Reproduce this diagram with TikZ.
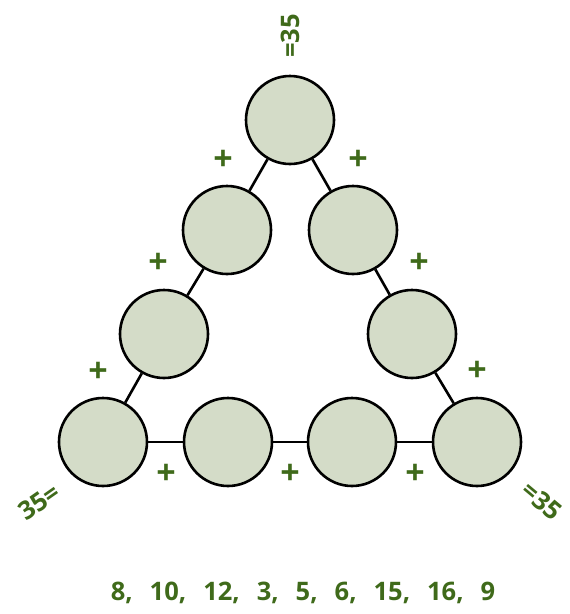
\documentclass[tikz,border=0pt]{standalone}
\usepackage{fontspec}
\setmainfont{Open Sans}
\usepackage{xcolor}
\usetikzlibrary{positioning}
\definecolor{ballfill}{HTML}{D4DCC8}
\definecolor{sumgreen}{HTML}{3F6A1A}

\tikzset{
  ball/.style={circle, draw=black, line width=2.6pt, fill=ballfill,
               minimum size=88pt, inner sep=0pt},
  link/.style={draw=black, line width=2.6pt},
  plussign/.style={text=sumgreen, font=\bfseries\fontsize{34}{34}\selectfont, inner sep=0pt},
  sumlabel/.style={text=sumgreen, font=\bfseries\fontsize{25.5}{25.5}\selectfont, inner sep=0pt}
}

\begin{document}
\begin{tikzpicture}[x=1pt, y=-1pt]
  \useasboundingbox (0,0) rectangle (570,614);

  % circles, from the top round to the bottom
  \node[ball] (top) at (290,120) {};
  \node[ball] (l1) at (227,230) {};
  \node[ball] (l2) at (164,334) {};
  \node[ball] (bl) at (103,442) {};
  \node[ball] (b1) at (228,442) {};
  \node[ball] (b2) at (352,442) {};
  \node[ball] (br) at (477,442) {};
  \node[ball] (r2) at (412,334) {};
  \node[ball] (r1) at (353,230) {};

  % links between neighbours
  \draw[link] (top) -- (l1);
  \draw[link] (l1) -- (l2);
  \draw[link] (l2) -- (bl);
  \draw[link] (bl) -- (b1);
  \draw[link] (b1) -- (b2);
  \draw[link] (b2) -- (br);
  \draw[link] (br) -- (r2);
  \draw[link] (r2) -- (r1);
  \draw[link] (r1) -- (top);

  % plus signs
  \node[plussign] (p1) at (223,160) {+};
  \node[plussign] (p2) at (158,263) {+};
  \node[plussign] (p3) at (98,372) {+};
  \node[plussign] (p4) at (358,160) {+};
  \node[plussign] (p5) at (419,263) {+};
  \node[plussign] (p6) at (477,371) {+};
  \node[plussign] (p7) at (166,474) {+};
  \node[plussign] (p8) at (290,474) {+};
  \node[plussign] (p9) at (415,474) {+};

  % sums at the corners
  \node[sumlabel, rotate=90] (stop) at (290,36) {=35};
  \node[sumlabel, rotate=35] (sleft) at (39,502) {35=};
  \node[sumlabel, rotate=-40] (sright) at (542,501) {=35};

  % numbers to place
  \node[sumlabel] (numbers) at (303,593) {\spaceskip=17pt 8, 10, 12, 3, 5, 6, 15, 16, 9};
\end{tikzpicture}
\end{document}
